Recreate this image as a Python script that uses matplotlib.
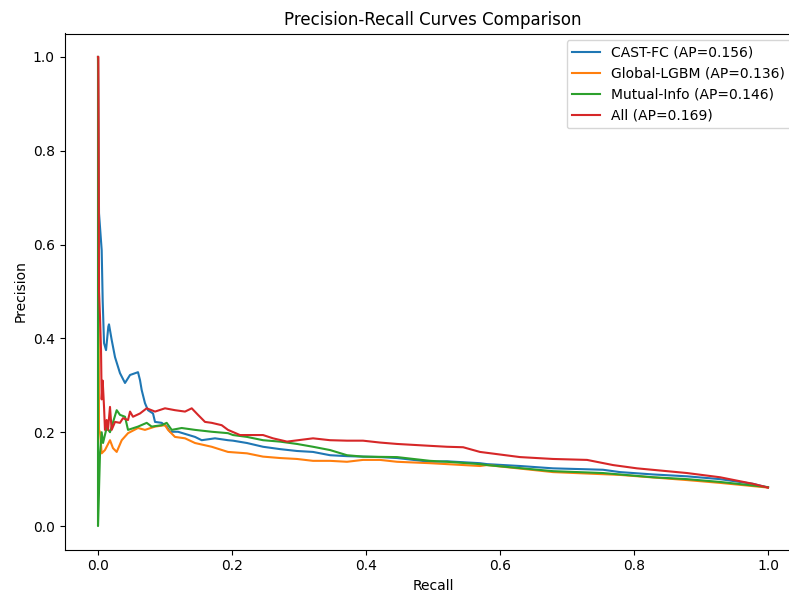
import matplotlib
matplotlib.use('Agg')

import matplotlib.pyplot as plt

# recall / precision points
cast_recall = [0.0, 0.0015, 0.0055, 0.007, 0.009, 0.012, 0.0154, 0.0164, 0.0204, 0.0254,
               0.0328, 0.0403, 0.0478, 0.0597, 0.0627, 0.0652, 0.0701, 0.0746, 0.0821, 0.0851,
               0.0951, 0.1025, 0.1075, 0.1194, 0.1448, 0.1548, 0.1746, 0.194, 0.2015, 0.2224,
               0.2463, 0.2716, 0.297, 0.3209, 0.3463, 0.3716, 0.3955, 0.4209, 0.4463, 0.4955,
               0.5209, 0.5701, 0.5806, 0.6299, 0.6791, 0.7299, 0.7537, 0.7791, 0.8284, 0.8791,
               0.9284, 0.9776, 1.0]
cast_precision = [1.0, 0.667, 0.588, 0.48, 0.39, 0.375, 0.425, 0.43, 0.397, 0.36,
                  0.326, 0.305, 0.322, 0.328, 0.311, 0.29, 0.262, 0.247, 0.24, 0.222,
                  0.22, 0.212, 0.201, 0.201, 0.19, 0.183, 0.187, 0.183, 0.182, 0.177,
                  0.169, 0.164, 0.16, 0.158, 0.151, 0.149, 0.148, 0.147, 0.145, 0.137,
                  0.138, 0.134, 0.132, 0.128, 0.123, 0.121, 0.12, 0.115, 0.11, 0.106,
                  0.1, 0.09, 0.082]

lgbm_recall = [0.0, 0.0015, 0.003, 0.0055, 0.0104, 0.0179, 0.0224, 0.0279, 0.0354, 0.0448,
               0.0597, 0.0701, 0.0851, 0.1, 0.1045, 0.1149, 0.1299, 0.1448, 0.1697, 0.194,
               0.2224, 0.2463, 0.2716, 0.297, 0.3209, 0.3463, 0.3716, 0.3955, 0.4209, 0.4463,
               0.4955, 0.5209, 0.5701, 0.5806, 0.6791, 0.7791, 0.8791, 0.9284, 1.0]
lgbm_precision = [1.0, 0.205, 0.2, 0.155, 0.162, 0.183, 0.166, 0.158, 0.183, 0.198,
                  0.209, 0.205, 0.212, 0.215, 0.205, 0.19, 0.187, 0.177, 0.169, 0.158,
                  0.155, 0.148, 0.145, 0.143, 0.139, 0.139, 0.137, 0.141, 0.141, 0.137,
                  0.134, 0.132, 0.128, 0.13, 0.115, 0.109, 0.098, 0.092, 0.082]

mi_recall = [0.0, 0.0, 0.003, 0.0055, 0.0075, 0.013, 0.0179, 0.0279, 0.0328, 0.0403,
             0.0448, 0.0597, 0.0727, 0.0801, 0.0951, 0.1025, 0.11, 0.1249, 0.1448, 0.1697,
             0.194, 0.2015, 0.2224, 0.2463, 0.2716, 0.297, 0.3209, 0.3463, 0.3716, 0.3955,
             0.4463, 0.4955, 0.5209, 0.5701, 0.5806, 0.6791, 0.7537, 0.8284, 0.8791, 0.9284,
             1.0]
mi_precision = [1.0, 0.0, 0.155, 0.2, 0.177, 0.21, 0.2, 0.247, 0.237, 0.233,
                0.205, 0.212, 0.22, 0.212, 0.215, 0.22, 0.205, 0.209, 0.205, 0.201,
                0.198, 0.194, 0.19, 0.183, 0.18, 0.175, 0.169, 0.162, 0.151, 0.148,
                0.147, 0.139, 0.137, 0.132, 0.13, 0.117, 0.113, 0.104, 0.1, 0.094,
                0.083]

all_recall = [0.0, 0.0005, 0.0015, 0.003, 0.0045, 0.0055, 0.007, 0.009, 0.0104, 0.013,
              0.0149, 0.0179, 0.0204, 0.0254, 0.0328, 0.0373, 0.0448, 0.0478, 0.0522, 0.0627,
              0.0727, 0.0851, 0.1, 0.1149, 0.1299, 0.1399, 0.1493, 0.1597, 0.1697, 0.1846,
              0.194, 0.2119, 0.2463, 0.2612, 0.2821, 0.3209, 0.3463, 0.3716, 0.3955, 0.4209,
              0.4463, 0.4955, 0.5209, 0.545, 0.5701, 0.6299, 0.6791, 0.7299, 0.7687, 0.8045,
              0.8791, 0.9284, 0.9776, 1.0]
all_precision = [1.0, 1.0, 0.5, 0.445, 0.375, 0.27, 0.31, 0.254, 0.205, 0.226,
                 0.205, 0.254, 0.205, 0.222, 0.22, 0.23, 0.226, 0.244, 0.233, 0.24,
                 0.251, 0.244, 0.251, 0.247, 0.244, 0.251, 0.237, 0.222, 0.22, 0.215,
                 0.205, 0.194, 0.194, 0.187, 0.18, 0.187, 0.183, 0.182, 0.182, 0.178,
                 0.175, 0.171, 0.169, 0.168, 0.158, 0.147, 0.143, 0.141, 0.13, 0.123,
                 0.113, 0.104, 0.09, 0.082]

labels = ["CAST-FC (AP=0.156)", "Global-LGBM (AP=0.136)",
          "Mutual-Info (AP=0.146)", "All (AP=0.169)"]

fig = plt.figure(figsize=(7.89, 5.93), dpi=100)
# axes runs slightly past the right edge, as in the cropped reference
ax = fig.add_axes([64.5 / 789, 43.5 / 593, 737 / 789, 516 / 593])

ax.plot(cast_recall, cast_precision, label=labels[0])
ax.plot(lgbm_recall, lgbm_precision, label=labels[1])
ax.plot(mi_recall, mi_precision, label=labels[2])
ax.plot(all_recall, all_precision, label=labels[3])

ax.spines["right"].set_visible(False)   # cut off in the reference

ax.set_title("Precision-Recall Curves Comparison")
ax.set_xlabel("Recall")
ax.set_ylabel("Precision")
ax.legend(loc="upper right", bbox_to_anchor=(1 - 4 / 737, 1))

fig.savefig("out.png", dpi=100)
plt.close(fig)
